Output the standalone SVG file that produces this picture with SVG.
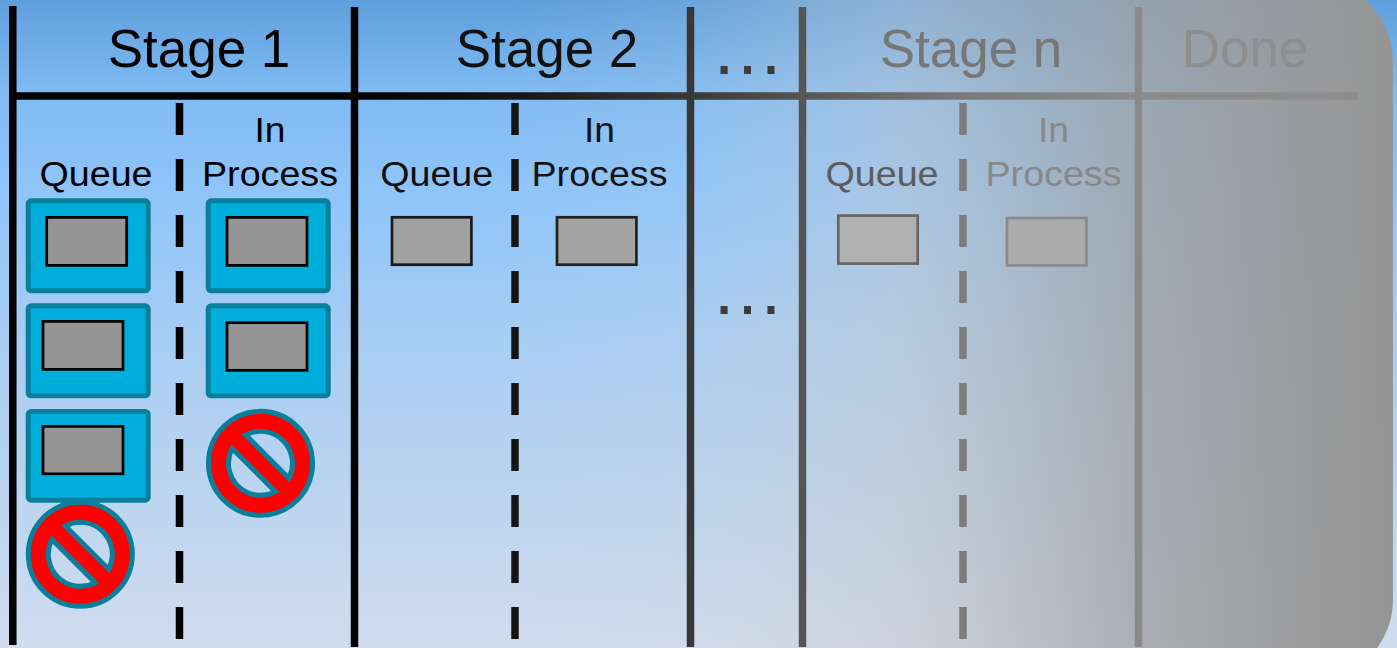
<svg xmlns="http://www.w3.org/2000/svg" width="1397" height="648" viewBox="0 0 1397 648">
  <defs>
    <linearGradient id="bg" x1="0" y1="0" x2="0" y2="648" gradientUnits="userSpaceOnUse">
      <stop offset="0" stop-color="#5e9fdd"/>
      <stop offset="0.14" stop-color="#7fbaf2"/>
      <stop offset="0.3" stop-color="#8fc5fa"/>
      <stop offset="0.5" stop-color="#a5ccf4"/>
      <stop offset="0.75" stop-color="#bad4f0"/>
      <stop offset="1" stop-color="#d1dcee"/>
    </linearGradient>
    <linearGradient id="fade" x1="0" y1="0" x2="1397" y2="0" gradientUnits="userSpaceOnUse">
      <stop offset="0.358" stop-color="#d0d0d0" stop-opacity="0"/>
      <stop offset="0.501" stop-color="#d0d0d0" stop-opacity="0.12"/>
      <stop offset="0.644" stop-color="#c8c8c8" stop-opacity="0.45"/>
      <stop offset="0.744" stop-color="#acacac" stop-opacity="0.62"/>
      <stop offset="0.816" stop-color="#a2a2a2" stop-opacity="0.8"/>
      <stop offset="0.93" stop-color="#999999" stop-opacity="0.95"/>
      <stop offset="0.997" stop-color="#959595" stop-opacity="1"/>
    </linearGradient>
    <linearGradient id="hline" x1="13" y1="0" x2="1358" y2="0" gradientUnits="userSpaceOnUse">
      <stop offset="0.25" stop-color="#000000"/>
      <stop offset="0.373" stop-color="#151515"/>
      <stop offset="0.503" stop-color="#383838"/>
      <stop offset="0.587" stop-color="#555555"/>
      <stop offset="0.706" stop-color="#7a7a7a"/>
      <stop offset="0.836" stop-color="#8a8a8a"/>
      <stop offset="1" stop-color="#8e8c8c"/>
    </linearGradient>
    <path id="nosign" d="M -52 0 A 52 52 0 1 0 52 0 A 52 52 0 1 0 -52 0 Z M -14.89 -28.33 A 32 32 0 0 1 28.33 14.89 Z M 14.89 28.33 A 32 32 0 0 1 -28.33 -14.89 Z"/>
  </defs>
  <style>
    .hdr { font-family: "Liberation Sans", Arial, sans-serif; font-size: 53px; text-anchor: middle; }
    .sub { font-family: "Liberation Sans", Arial, sans-serif; font-size: 35px; text-anchor: middle; }
    .dots { font-family: "Liberation Sans", Arial, sans-serif; font-size: 74px; text-anchor: middle; fill: #3c3c3c; }
    .vl { stroke-width: 7.5; fill: none; }
    .dash { stroke-width: 7.5; fill: none; stroke-dasharray: 32 24; }
    .card { fill: #00aedb; stroke: #0a7f9c; stroke-width: 5; }
    .item { stroke-width: 2.7; }
    .no { fill: #ff0000; stroke: #0a7f9c; stroke-width: 5; fill-rule: evenodd; }
  </style>

  <rect id="background" x="0" y="0" width="1397" height="648" fill="url(#bg)"/>
  <rect id="fade-overlay" x="400" y="-20" width="993" height="700" rx="80" ry="80" fill="url(#fade)"/>

  <g id="connectors">
    <line class="vl" x1="12.8" y1="6" x2="12.8" y2="645" stroke="#000"/>
    <line class="vl" x1="354.5" y1="7" x2="354.5" y2="647" stroke="#000"/>
    <line class="vl" x1="690.5" y1="7" x2="690.5" y2="647" stroke="#383838"/>
    <line class="vl" x1="802.5" y1="7" x2="802.5" y2="647" stroke="#555555"/>
    <line class="vl" x1="1138.5" y1="7" x2="1138.5" y2="647" stroke="#8a8a8a"/>
    <line class="vl" x1="9" y1="96" x2="1358" y2="96" stroke="url(#hline)"/>
    <line class="dash" x1="179.5" y1="103" x2="179.5" y2="639" stroke="#000"/>
    <line class="dash" x1="515" y1="103" x2="515" y2="639" stroke="#141414"/>
    <line class="dash" x1="963" y1="103" x2="963" y2="639" stroke="#7c7c7c"/>
  </g>

  <g id="stage1">
    <text class="hdr" x="199" y="67" fill="#000">Stage 1</text>
    <text class="sub" x="96" y="186" fill="#000" textLength="113" lengthAdjust="spacingAndGlyphs">Queue</text>
    <text class="sub" x="270" y="141.7" fill="#000" textLength="31" lengthAdjust="spacingAndGlyphs">In</text>
    <text class="sub" x="270" y="186" fill="#000" textLength="136" lengthAdjust="spacingAndGlyphs">Process</text>
  </g>

  <g id="stage1-queue-card1">
    <rect class="card" x="28.2" y="200.8" width="120" height="90" rx="3"/>
    <rect class="item" x="46.7" y="217.4" width="80" height="48" fill="#959595" stroke="#000"/>
  </g>
  <g id="stage1-queue-card2">
    <rect class="card" x="28.2" y="305.8" width="120" height="90" rx="3"/>
    <rect class="item" x="43" y="321.4" width="80" height="48" fill="#959595" stroke="#000"/>
  </g>
  <g id="stage1-queue-card3">
    <rect class="card" x="28.2" y="411.5" width="120" height="88.7" rx="3"/>
    <rect class="item" x="43" y="426.4" width="80" height="47.4" fill="#959595" stroke="#000"/>
  </g>
  <g id="stage1-queue-blocked">
    <use href="#nosign" class="no" transform="translate(80.3 554.3)"/>
  </g>
  <g id="stage1-process-card1">
    <rect class="card" x="208.2" y="200.8" width="120" height="90" rx="3"/>
    <rect class="item" x="227" y="217.4" width="80" height="48" fill="#959595" stroke="#000"/>
  </g>
  <g id="stage1-process-card2">
    <rect class="card" x="208.2" y="305.8" width="120" height="90" rx="3"/>
    <rect class="item" x="227" y="322.7" width="80" height="47.6" fill="#959595" stroke="#000"/>
  </g>
  <g id="stage1-process-blocked">
    <use href="#nosign" class="no" transform="translate(260.5 463.3)"/>
  </g>

  <g id="stage2">
    <text class="hdr" x="547" y="67" fill="#111">Stage 2</text>
    <text class="sub" x="436.7" y="186" fill="#0f0f0f" textLength="113" lengthAdjust="spacingAndGlyphs">Queue</text>
    <text class="sub" x="599.5" y="141.7" fill="#141414" textLength="31" lengthAdjust="spacingAndGlyphs">In</text>
    <text class="sub" x="599.5" y="186" fill="#141414" textLength="136" lengthAdjust="spacingAndGlyphs">Process</text>
  </g>
  <g id="stage2-queue-item">
    <rect class="item" x="392" y="217.3" width="79.4" height="47.4" fill="#a1a1a1" stroke="#1a1a1a"/>
  </g>
  <g id="stage2-process-item">
    <rect class="item" x="557" y="217.3" width="79.4" height="47.4" fill="#a4a4a4" stroke="#222"/>
  </g>

  <g id="ellipsis">
    <text class="dots" x="747.5" y="73.5">…</text>
    <text class="dots" x="747.5" y="313.5">…</text>
  </g>

  <g id="stage-n">
    <text class="hdr" x="971" y="67" fill="#777">Stage n</text>
    <text class="sub" x="882" y="186" fill="#5c5c5c" textLength="113" lengthAdjust="spacingAndGlyphs">Queue</text>
    <text class="sub" x="1053.5" y="141.7" fill="#888" textLength="31" lengthAdjust="spacingAndGlyphs">In</text>
    <text class="sub" x="1053.5" y="186" fill="#888" textLength="136" lengthAdjust="spacingAndGlyphs">Process</text>
  </g>
  <g id="stage-n-queue-item">
    <rect class="item" x="838.3" y="215.6" width="79.4" height="48" fill="#b0b0b0" stroke="#666"/>
  </g>
  <g id="stage-n-process-item">
    <rect class="item" x="1007" y="218" width="79.4" height="47.4" fill="#ababab" stroke="#8a8a8a"/>
  </g>

  <g id="done">
    <text class="hdr" x="1245" y="67" fill="#8e8e8e">Done</text>
  </g>
</svg>
